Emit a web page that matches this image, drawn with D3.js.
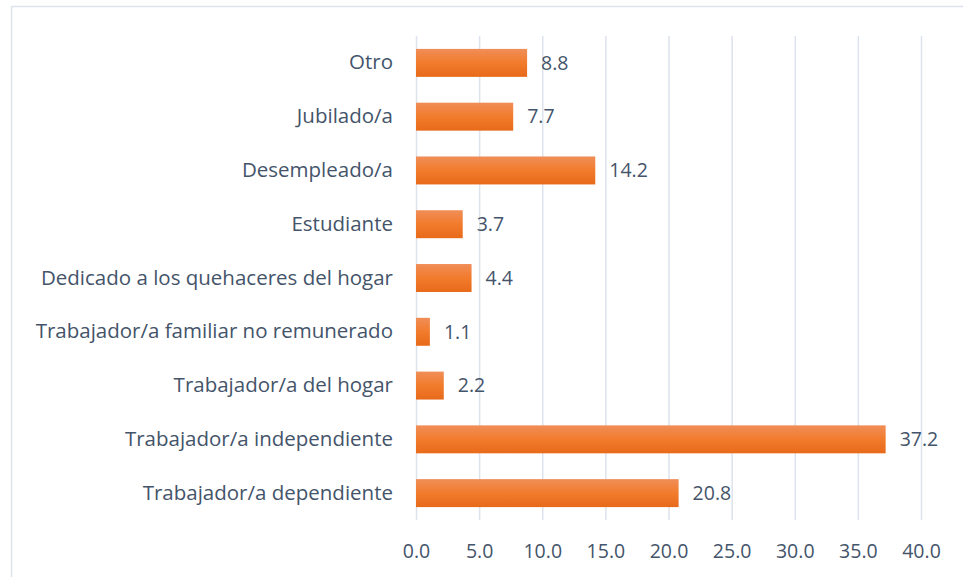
<!DOCTYPE html>
<html>
<head>
<meta charset="utf-8">
<script src="https://cdn.jsdelivr.net/npm/d3@7"></script>
<style>
  body { margin: 0; background: #fff; }
  text { font-family: "Open Sans", sans-serif; fill: #44546a; }
</style>
</head>
<body>
<div id="graf"></div>
<script>
const categorias = [
  "Otro",
  "Jubilado/a",
  "Desempleado/a",
  "Estudiante",
  "Dedicado a los quehaceres del hogar",
  "Trabajador/a familiar no remunerado",
  "Trabajador/a del hogar",
  "Trabajador/a independiente",
  "Trabajador/a dependiente"
]
const valores = [8.8, 7.7, 14.2, 3.7, 4.4, 1.1, 2.2, 37.2, 20.8]
const ticks = [0, 5, 10, 15, 20, 25, 30, 35, 40]

const draw = () => {
  const anchoTotal = 963
  const altoTotal = 577
  const margins = { top: 36, right: 42, bottom: 57, left: 416 }
  const ancho = anchoTotal - margins.left - margins.right
  const alto = altoTotal - margins.top - margins.bottom

  const svg = d3.select("#graf")
    .append("svg")
    .attr("width", anchoTotal)
    .attr("height", altoTotal)

  // degradado de las barras
  const grad = svg.append("defs")
    .append("linearGradient")
    .attr("id", "naranja")
    .attr("x1", 0).attr("y1", 0).attr("x2", 0).attr("y2", 1)
  grad.append("stop").attr("offset", "0%").attr("stop-color", "#f08e58")
  grad.append("stop").attr("offset", "50%").attr("stop-color", "#f27b2c")
  grad.append("stop").attr("offset", "100%").attr("stop-color", "#e76a1a")

  // borde del grafico
  svg.append("rect")
    .attr("x", 11.5)
    .attr("y", 6.5)
    .attr("width", 980)
    .attr("height", 600)
    .attr("fill", "none")
    .attr("stroke", "#dde3ec")
    .attr("stroke-width", 1.5)

  const chart = svg.append("g")
    .attr("transform", `translate(${margins.left}, ${margins.top})`)

  const x = d3.scaleLinear().domain([0, 40]).range([0, ancho])
  const y = d3.scaleBand().domain(categorias).range([0, alto]).paddingInner(0.48).paddingOuter(0.24)

  const xAxis = d3.axisBottom(x)
    .tickValues(ticks)
    .tickSize(-alto)
    .tickFormat(d3.format(".1f"))

  const xAxisGroup = chart.append("g")
    .attr("transform", `translate(0, ${alto})`)
    .call(xAxis)
  xAxisGroup.select(".domain").remove()
  xAxisGroup.selectAll(".tick line")
    .attr("stroke", "#dde3ec")
    .attr("stroke-width", 1.5)
  xAxisGroup.selectAll(".tick text")
    .attr("dy", 0)
    .attr("y", 38)
    .style("font-size", "19.5px")
    .attr("fill", "#44546a")

  const yAxis = d3.axisLeft(y).tickSize(0).tickPadding(23)
  const yAxisGroup = chart.append("g").call(yAxis)
  yAxisGroup.select(".domain").remove()
  yAxisGroup.selectAll(".tick text")
    .style("font-size", "20.5px")
    .attr("fill", "#44546a")

  chart.selectAll(".barra")
    .data(valores)
    .join("rect")
    .attr("class", "barra")
    .attr("x", 0)
    .attr("y", (d, i) => y(categorias[i]))
    .attr("width", (d) => x(d))
    .attr("height", y.bandwidth())
    .attr("fill", "url(#naranja)")

  chart.selectAll(".valor")
    .data(valores)
    .join("text")
    .attr("class", "valor")
    .attr("x", (d) => x(d) + 14)
    .attr("y", (d, i) => y(categorias[i]) + y.bandwidth() / 2)
    .attr("dy", "0.35em")
    .style("font-size", "19.5px")
    .text((d) => d.toFixed(1))
}

draw()
</script>
</body>
</html>
